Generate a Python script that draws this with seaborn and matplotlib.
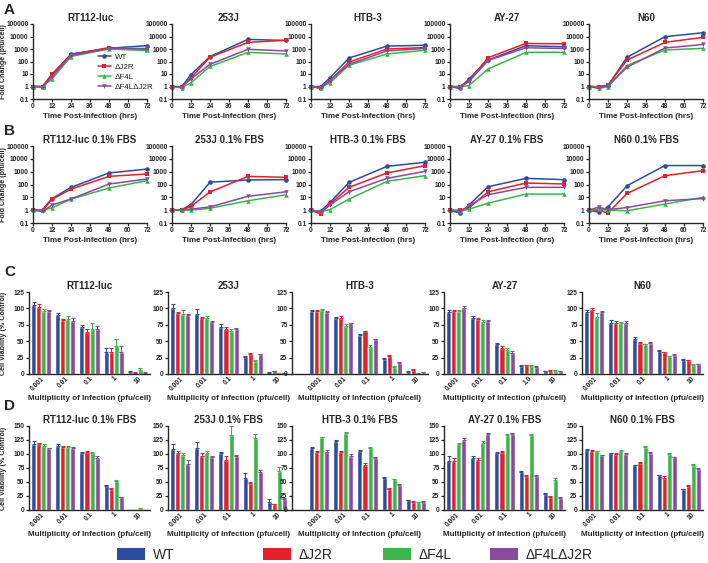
import numpy as np
import pandas as pd
import matplotlib
matplotlib.use("Agg")
import matplotlib.pyplot as plt
from matplotlib.patches import Patch
from matplotlib.lines import Line2D
import seaborn as sns

viruses = ["WT", "ΔJ2R", "ΔF4L", "ΔF4LΔJ2R"]
colors = ["#2C4C9F", "#E4202A", "#3BB54A", "#8B4B9D"]
markers = ["o", "s", "^", "v"]
cells = ["RT112-luc", "253J", "HTB-3", "AY-27", "N60"]
hours = [0, 6, 12, 24, 48, 72]
moi = ["0.001", "0.01", "0.1", "1", "10"]
moi_ay27 = ["0.001", "0.01", "0.1", "1.0", "10"]

# A: virus growth, full serum (rows = WT, dJ2R, dF4L, dF4LdJ2R)
a_rt112 = [[1, 1, 8, 400, 1150, 1850], [1, 1, 10, 350, 1300, 850], [1, 1, 4, 250, 1000, 760], [1, 0.9, 6, 300, 1100, 1100]]
a_253j = [[1, 0.9, 9, 250, 5900, 4800], [1, 1, 5, 220, 3400, 5000], [1, 0.8, 2, 40, 540, 400], [1, 0.9, 4, 60, 940, 700]]
a_htb3 = [[1, 1, 5, 190, 1700, 2000], [1, 0.7, 3, 90, 1000, 1300], [1, 0.8, 2, 50, 400, 800], [1, 0.8, 3, 60, 700, 1100]]
a_ay27 = [[1, 0.7, 4, 130, 1850, 1500], [1, 1.0, 3, 200, 2800, 2600], [1, 0.9, 1.2, 25, 540, 550], [1, 0.8, 2.5, 120, 1260, 1100]]
a_n60 = [[1, 0.9, 1.2, 215, 9700, 20000], [1, 1, 1.3, 130, 3400, 8500], [1, 0.8, 1, 47, 830, 1130], [1, 0.7, 1.1, 35, 1200, 2300]]

# B: virus growth, 0.1% FBS
b_rt112 = [[1, 1.1, 8, 60, 790, 1600], [1, 0.9, 7, 44, 430, 660], [1, 1.0, 1.5, 7.3, 53, 200], [1, 0.8, 2.5, 7.5, 108, 270]]
b_253j = [[1, 1.1, 2.7, 150, 225, 240], [1, 1.0, 2, 26, 430, 360], [1, 1.0, 1.0, 1.4, 5.4, 16], [1, 1.1, 1.2, 1.8, 12, 27]]
b_htb3 = [[1, 0.8, 4, 146, 2600, 5400], [1, 0.5, 3, 60, 790, 2950], [1, 0.8, 1.1, 7.3, 175, 490], [1, 0.7, 2.5, 27, 300, 1060]]
b_ay27 = [[1, 0.6, 2.5, 67, 300, 240], [1, 1.0, 1.5, 27, 130, 110], [1, 0.8, 1.2, 3.5, 18, 18], [1, 0.7, 2.2, 16, 60, 60]]
b_n60 = [[1, 0.7, 1.8, 80, 3000, 3000], [1, 1.0, 0.6, 20, 490, 1200], [1, 1.2, 1.0, 0.9, 3, 10], [1, 1.7, 1.1, 1.6, 5.4, 8]]

# C: cell viability (% control), full serum
c_rt112 = [[105, 90, 71, 34, 3], [102, 82, 64, 33, 2], [96, 84, 69, 42, 6], [96, 81, 68, 34, 2]]
c_rt112_err = [[4, 3, 4, 6, 1], [5, 2, 4, 6, 1], [3, 4, 8, 12, 3], [1, 4, 5, 8, 1]]
c_253j = [[101, 91, 72, 26, 2], [93, 85, 69, 31, 4], [92, 85, 66, 20, 0.5], [90, 80, 69, 30, 1]]
c_253j_err = [[5, 8, 4, 1, 0.5], [1, 2, 2, 1, 1], [6, 3, 3, 1, 0.5], [2, 1, 1, 1, 0.5]]
c_htb3 = [[96, 86, 60, 23, 3], [96, 86, 65, 28, 6], [97, 73, 41, 10, 1], [95, 77, 53, 17, 3]]
c_htb3_err = [[1, 1, 1, 1, 1], [1, 2, 1, 1, 1], [2, 3, 3, 2, 0.5], [1, 1, 1, 1, 0.5]]
c_ay27 = [[95, 86, 45, 12, 4], [96, 84, 40, 13, 5], [96, 80, 37, 12, 5], [100, 81, 32, 11, 4]]
c_ay27_err = [[3, 2, 3, 1, 1], [2, 1, 3, 1, 1], [2, 3, 2, 1, 1], [3, 1, 3, 1, 1]]
c_n60 = [[95, 78, 54, 35, 22], [98, 78, 48, 33, 21], [87, 77, 45, 27, 14], [95, 78, 48, 29, 15]]
c_n60_err = [[3, 4, 3, 1, 1], [2, 3, 1, 1, 1], [6, 3, 1, 1, 1], [1, 3, 1, 1, 1]]

# D: cell viability (% control), 0.1% FBS
d_rt112 = [[117, 115, 102, 42, 0], [118, 113, 103, 38, 0], [115, 112, 101, 52, 3], [110, 111, 93, 23, 0]]
d_rt112_err = [[6, 2, 1, 3, 0], [1, 1, 2, 2, 0], [2, 3, 2, 1, 1], [1, 2, 4, 1, 0]]
d_253j = [[109, 110, 101, 58, 15], [102, 96, 90, 48, 10], [99, 102, 134, 128, 70], [83, 95, 97, 68, 20]]
d_253j_err = [[8, 12, 2, 8, 5], [4, 6, 6, 2, 1], [3, 3, 16, 8, 7], [6, 1, 2, 3, 1]]
d_htb3 = [[110, 123, 105, 57, 17], [104, 104, 80, 38, 15], [130, 137, 111, 55, 14], [104, 97, 92, 45, 15]]
d_htb3_err = [[2, 2, 2, 2, 1], [2, 2, 4, 2, 1], [1, 2, 2, 1, 1], [3, 3, 2, 1, 1]]
d_ay27 = [[88, 92, 101, 67, 29], [88, 89, 104, 60, 24], [117, 120, 134, 134, 54], [125, 135, 135, 61, 22]]
d_ay27_err = [[8, 4, 3, 2, 1], [4, 3, 2, 2, 1], [2, 3, 2, 1, 4], [4, 3, 3, 1, 1]]
d_n60 = [[108, 101, 80, 62, 37], [106, 100, 84, 58, 43], [105, 106, 113, 100, 81], [98, 100, 102, 94, 74]]
d_n60_err = [[1, 1, 1, 1, 1], [2, 1, 1, 2, 2], [1, 1, 1, 1, 1], [1, 1, 1, 1, 1]]

sns.set_style("ticks")
plt.rcParams['font.family'] = ['Liberation Sans', 'DejaVu Sans']
plt.rcParams['font.weight'] = 'bold'
plt.rcParams['axes.linewidth'] = 1.0
plt.rcParams['xtick.major.width'] = 0.9
plt.rcParams['ytick.major.width'] = 0.9
plt.rcParams['xtick.major.size'] = 2.2
plt.rcParams['ytick.major.size'] = 2.2

W, H = 708, 563
palette = dict(zip(viruses, colors))
mdict = dict(zip(viruses, markers))


def rect(left, width, top, bottom):
    return [left / W, 1 - bottom / H, width / W, (bottom - top) / H]


def style_ax(ax, title):
    ax.set_title(title, fontsize=7, fontweight='bold', pad=2.5)
    ax.tick_params(labelsize=4.8, pad=1)
    for lab in ax.get_xticklabels() + ax.get_yticklabels():
        lab.set_fontweight('bold')
    sns.despine(ax=ax)


def growth_panel(ax, title, vals, ylabel=None):
    df = pd.DataFrame({"hours": hours * 4,
                       "fold": sum(vals, []),
                       "virus": np.repeat(viruses, len(hours))})
    sns.lineplot(data=df, x="hours", y="fold", hue="virus", style="virus",
                 hue_order=viruses, style_order=viruses, palette=palette,
                 markers=mdict, dashes=False, markersize=3.3, linewidth=1.1,
                 markeredgewidth=0, ax=ax, legend=False)
    for ln in ax.lines:
        ln.set_clip_on(False)
    ax.set_yscale("log")
    ax.set_ylim(0.1, 100000)
    ax.set_xlim(0, 72)
    ax.set_xticks(range(0, 73, 12))
    ax.set_yticks([0.1, 1, 10, 100, 1000, 10000, 100000])
    ax.set_yticklabels(["0.1", "1", "10", "100", "1000", "10000", "100000"])
    ax.yaxis.set_minor_locator(matplotlib.ticker.NullLocator())
    ax.set_xlabel("Time Post-Infection (hrs)", fontsize=5.8, fontweight='bold', labelpad=1.5)
    ax.set_ylabel(ylabel if ylabel else "", fontsize=5.1, fontweight='bold')
    ax.yaxis.set_label_coords(-26 / 114, 0.5)
    style_ax(ax, title)


def viability_panel(ax, title, vals, errs, labels, ymax, xlo, ylabel=None):
    df = pd.DataFrame({"moi": labels * 4,
                       "viab": sum(vals, []),
                       "virus": np.repeat(viruses, len(labels))})
    sns.barplot(data=df, x="moi", y="viab", hue="virus", order=labels,
                hue_order=viruses, palette=palette, saturation=1, width=0.83,
                gap=0, errorbar=None, ax=ax, legend=False)
    for cont, e, c in zip(ax.containers, errs, colors):
        xs = [p.get_x() + p.get_width() / 2 for p in cont]
        hs = [p.get_height() for p in cont]
        ax.errorbar(xs, hs, yerr=[np.zeros(len(e)), e], fmt="none", ecolor=c,
                    elinewidth=0.8, capsize=1.3, capthick=0.8)
    ax.set_xlim(xlo, 4.5)
    ax.set_ylim(0, ymax)
    ax.set_yticks(range(0, ymax + 1, 25))
    ax.tick_params(axis="x", length=0)
    plt.setp(ax.get_xticklabels(), rotation=45, ha="right", rotation_mode="anchor")
    ax.set_xlabel("Multiplicity of Infection (pfu/cell)", fontsize=5.8, fontweight='bold', labelpad=2)
    ax.set_ylabel(ylabel if ylabel else "", fontsize=5.1, fontweight='bold')
    ax.yaxis.set_label_coords(-22 / 121, 0.5)
    style_ax(ax, title)


fig = plt.figure(figsize=(7.08, 5.63), dpi=100)

line_left = [33, 172, 311, 450, 589]
bar_left = [29, 168, 292, 444, 582]
bar_width = [121, 121, 136, 121, 121]
bar_xlo = [-0.5, -0.5, -1.12, -0.5, -0.5]

rowA = [a_rt112, a_253j, a_htb3, a_ay27, a_n60]
rowB = [b_rt112, b_253j, b_htb3, b_ay27, b_n60]
rowC = [c_rt112, c_253j, c_htb3, c_ay27, c_n60]
rowC_err = [c_rt112_err, c_253j_err, c_htb3_err, c_ay27_err, c_n60_err]
rowD = [d_rt112, d_253j, d_htb3, d_ay27, d_n60]
rowD_err = [d_rt112_err, d_253j_err, d_htb3_err, d_ay27_err, d_n60_err]

for i, cell in enumerate(cells):
    ax = fig.add_axes(rect(line_left[i], 114, 24, 99))
    growth_panel(ax, cell, rowA[i], "Fold Change (pfu/cell)" if i == 0 else None)
    if i == 0:
        handles = [Line2D([0], [0], color=c, marker=m, markersize=3.3, lw=1.1, markeredgewidth=0)
                   for c, m in zip(colors, markers)]
        leg = ax.legend(handles, viruses, loc="lower left", bbox_to_anchor=(0.52, 0.03),
                        frameon=False, fontsize=5.8, handlelength=1.6, labelspacing=0.3,
                        handletextpad=0.5, borderpad=0.2)
        for t in leg.get_texts():
            t.set_fontweight('normal')

    ax = fig.add_axes(rect(line_left[i], 114, 146, 223))
    growth_panel(ax, cell + " 0.1% FBS", rowB[i], "Fold Change (pfu/cell)" if i == 0 else None)

    ax = fig.add_axes(rect(bar_left[i], bar_width[i], 292, 374))
    viability_panel(ax, cell, rowC[i], rowC_err[i], moi_ay27 if cell == "AY-27" else moi,
                    125, bar_xlo[i], "Cell Viability (% Control)" if i == 0 else None)

    ax = fig.add_axes(rect(bar_left[i], bar_width[i], 426, 510))
    viability_panel(ax, cell + " 0.1% FBS", rowD[i], rowD_err[i], moi,
                    150, bar_xlo[i], "Cell Viability (% Control)" if i == 0 else None)

for letter, ypx in zip("ABCD", [10, 131, 272, 406]):
    fig.text(4 / W, 1 - ypx / H, letter, fontsize=11, fontweight='bold', va="center", ha="left")

# bottom legend, one entry at a time so each sits where the original puts it
legend_x = [117, 263, 383, 490]
for c, name, xpx in zip(colors, viruses, legend_x):
    leg = fig.legend([Patch(facecolor=c, edgecolor="none")], [name], loc="center left",
                     bbox_to_anchor=(xpx / W, 1 - 555 / H), frameon=False, fontsize=10,
                     handlelength=2.0, handleheight=0.9, handletextpad=0.6,
                     borderpad=0, borderaxespad=0)
    for t in leg.get_texts():
        t.set_fontweight('normal')

fig.savefig("out.png", dpi=100)
